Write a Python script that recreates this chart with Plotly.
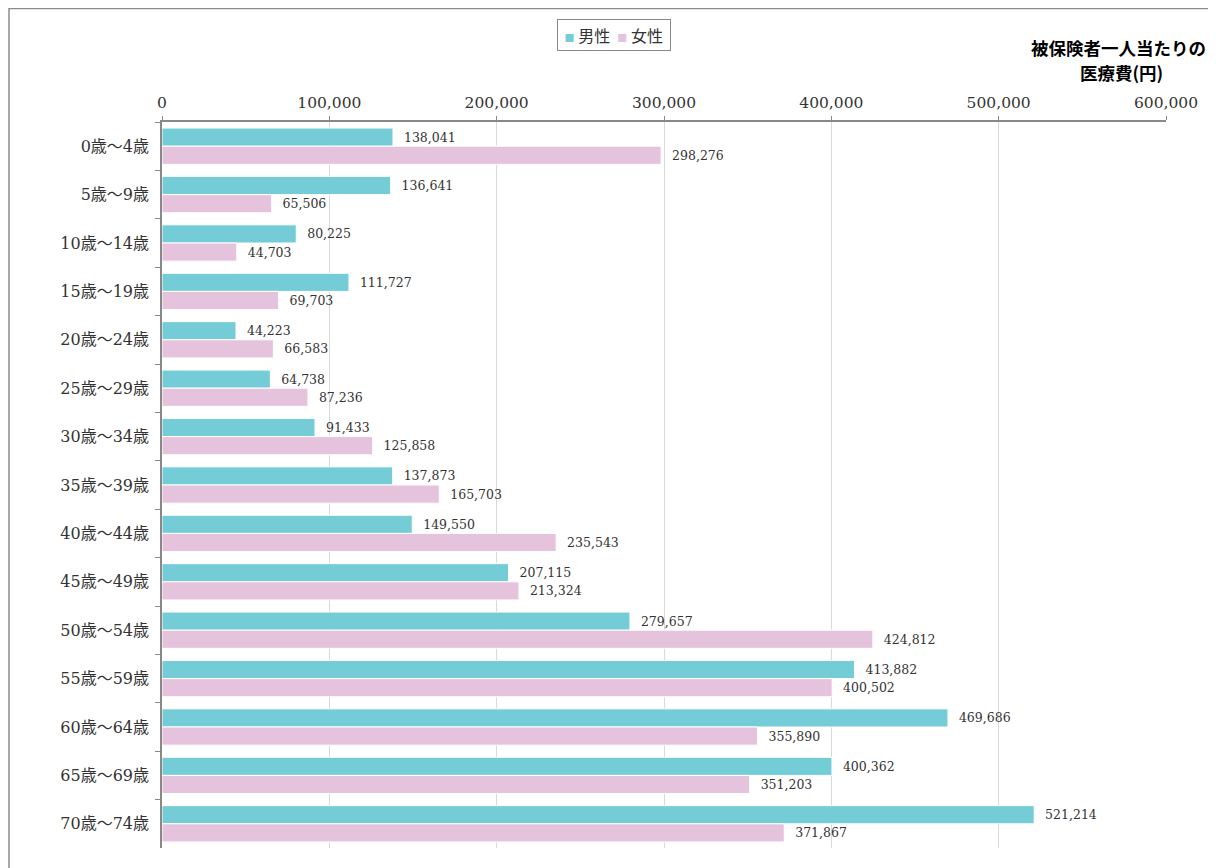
import plotly.graph_objects as go

categories = ["0歳～4歳", "5歳～9歳", "10歳～14歳", "15歳～19歳", "20歳～24歳",
              "25歳～29歳", "30歳～34歳", "35歳～39歳", "40歳～44歳", "45歳～49歳",
              "50歳～54歳", "55歳～59歳", "60歳～64歳", "65歳～69歳", "70歳～74歳"]
male = [138041, 136641, 80225, 111727, 44223, 64738, 91433, 137873, 149550,
        207115, 279657, 413882, 469686, 400362, 521214]
female = [298276, 65506, 44703, 69703, 66583, 87236, 125858, 165703, 235543,
          213324, 424812, 400502, 355890, 351203, 371867]
x_ticks = [0, 100000, 200000, 300000, 400000, 500000, 600000]
male_color = "#74CCD7"
female_color = "#E6C3DD"

serif = "DejaVu Serif, Noto Sans CJK JP, serif"
sans = "Noto Sans CJK JP, sans-serif"

fig = go.Figure()
fig.add_trace(go.Bar(
    y=categories, x=male, name="男性", orientation="h",
    marker=dict(color=male_color, line=dict(color="white", width=1)),
    texttemplate="\u00a0\u00a0%{x:,}", textposition="outside",
    textfont=dict(family=serif, size=12.5, color="#333333"), cliponaxis=False,
))
fig.add_trace(go.Bar(
    y=categories, x=female, name="女性", orientation="h",
    marker=dict(color=female_color, line=dict(color="white", width=1)),
    texttemplate="\u00a0\u00a0%{x:,}", textposition="outside",
    textfont=dict(family=serif, size=12.5, color="#333333"), cliponaxis=False,
))

# page has an 8px body margin: figure pixel = page pixel - 8
W, H = 1216, 868
ml, mt = 154, 114
pr, pb = 1158, 840
mr, mb = W - pr, H - pb
pw, ph = pr - ml, pb - mt

def px(xp):
    return (xp - ml) / pw

def py(yp):
    return (pb - yp) / ph

fig.update_layout(
    width=W, height=H,
    margin=dict(l=ml, r=mr, t=mt, b=mb),
    paper_bgcolor="white", plot_bgcolor="white",
    barmode="group", bargap=0.25, bargroupgap=0.0,
    showlegend=False,
    xaxis=dict(side="top", range=[0, 600000], tickvals=x_ticks,
               tickformat=",", showgrid=True, gridcolor="#d9d9d9", gridwidth=1,
               showline=True, linecolor="#888888", linewidth=1.5,
               ticks="outside", ticklen=4, tickcolor="#888888",
               tickfont=dict(family=serif, size=15.5, color="#333333"),
               ticklabelstandoff=2, zeroline=False, fixedrange=True),
    yaxis=dict(autorange="reversed", showline=True, linecolor="#888888", linewidth=1.5,
               ticks="outside", ticklen=5, tickcolor="#888888", tickson="boundaries",
               tickfont=dict(family=serif, size=16, color="#333333"),
               ticklabelstandoff=8, fixedrange=True),
    font=dict(family=serif),
)

# legend drawn as a boxed annotation
fig.add_annotation(
    text=(f"\u00a0<span style='color:{male_color};font-size:10px'>■</span>\u00a0男性\u00a0\u00a0"
          f"<span style='color:{female_color};font-size:10px'>■</span>\u00a0女性\u00a0"),
    xref="paper", yref="paper", x=px(606), y=py(27),
    xanchor="center", yanchor="middle", showarrow=False,
    font=dict(family=sans, size=16, color="#333333"),
    bordercolor="#888888", borderwidth=1, borderpad=3, bgcolor="white",
)

# title in two lines
fig.add_annotation(
    text="<b>被保険者一人当たりの</b>", xref="paper", yref="paper",
    x=px(1110), y=py(39), xanchor="center", yanchor="middle", showarrow=False,
    font=dict(family=sans, size=17.5, color="#000000"),
)
fig.add_annotation(
    text="<b>医療費(円)</b>", xref="paper", yref="paper",
    x=px(1113), y=py(64), xanchor="center", yanchor="middle", showarrow=False,
    font=dict(family=sans, size=17.5, color="#000000"),
)

# outer chart frame (partially cropped at right and bottom)
fig.add_shape(type="rect", xref="paper", yref="paper",
              x0=px(1), x1=px(W + 20), y0=py(H + 20), y1=py(0.5),
              line=dict(color="#8c8c8c", width=1.5), fillcolor="rgba(0,0,0,0)", layer="below")

fig.write_html("out.html")
